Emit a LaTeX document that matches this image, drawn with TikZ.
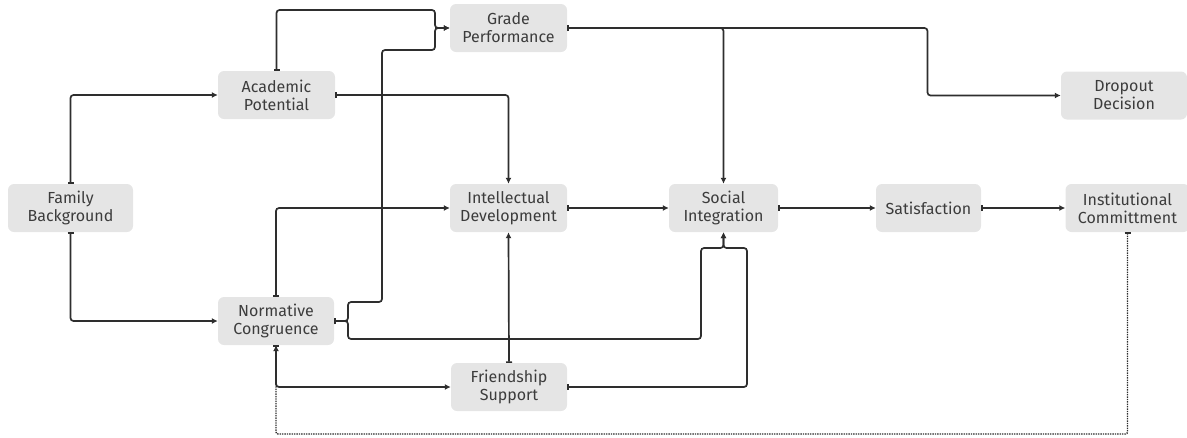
\documentclass[tikz,border=0pt]{standalone}
\usepackage{fontspec}
\setmainfont{Fira Sans}
\usepackage{tikz}
\usetikzlibrary{positioning,arrows.meta,calc}
\definecolor{boxgray}{HTML}{E5E5E5}
\definecolor{ink}{HTML}{2E2E2E}
\definecolor{txt}{HTML}{3C3C3C}

\begin{document}
\begin{tikzpicture}[x=1pt,y=-1pt,
  box/.style={fill=boxgray,rounded corners=6pt,minimum height=48pt,inner xsep=4pt,
    align=center,text=txt,font=\fontsize{16pt}{18pt}\selectfont},
  link/.style={draw=ink,line width=1.7pt,rounded corners=3pt,
    {Bar[width=6pt,line width=1.5pt]}-{Latex[length=6pt,width=6pt]}},
  feedback/.style={draw=ink,line width=1.4pt,densely dotted,rounded corners=2pt,
    {Bar[width=6pt,line width=1.3pt]}-{Latex[length=6pt,width=6pt]}}]
\useasboundingbox (0,0) rectangle (1187,437);
% boxes
\node[box,minimum width=117pt] (grade) at (508.5,28) {Grade\\Performance};
\node[box,minimum width=117pt] (acad) at (276.5,95) {Academic\\Potential};
\node[box,minimum width=125pt] (family) at (70.5,208) {Family\\Background};
\node[box,minimum width=117pt] (intel) at (508.5,208) {Intellectual\\Development};
\node[box,minimum width=116pt] (norm) at (276,321) {Normative\\Congruence};
\node[box,minimum width=116pt] (friend) at (509,387) {Friendship\\Support};
\node[box,minimum width=109pt] (social) at (723.5,208) {Social\\Integration};
\node[box,minimum width=105pt] (satis) at (928.5,208) {Satisfaction};
\node[box,minimum width=124pt] (inst) at (1127.5,208) {Institutional\\Committment};
\node[box,minimum width=126pt] (drop) at (1124,95.5) {Dropout\\Decision};
% bends
\coordinate (gradein) at (435,28);
\coordinate (normsplit) at (348,321);
\coordinate (socialin) at (723.5,248);
\coordinate (graderight) at (927.5,28);
\coordinate (loopbottom) at (276,434);
% family background
\draw[link] (family.north) |- (acad.west);
\draw[link] (family.south) |- (norm.west);
% into grade performance
\draw[link] (acad.north) -- (acad.north |- 0,10) -- (gradein |- 0,10) -- (gradein) -- (grade.west);
\draw[link] (norm.east) -- (normsplit) -- (normsplit |- 0,302) -- (382,302) -- (382,50)
  -- (gradein |- 0,50) -- (gradein) -- (grade.west);
% into social integration
\draw[link] (norm.east) -- (normsplit) -- (normsplit |- 0,339) -- (701,339) -- (701,248)
  -- (socialin) -- (social.south);
\draw[link] (friend.east) -- (747,387) -- (747,248) -- (socialin) -- (social.south);
\draw[link] (grade.east) -| (social.north);
\draw[link] (grade.east) -- (graderight) |- (drop.west);
% into intellectual development
\draw[link] (acad.east) -| (intel.north);
\draw[link] (norm.north) |- (intel.west);
\draw[link] (friend.north) -- (intel.south);
% main row
\draw[link] (intel.east) -- (social.west);
\draw[link] (social.east) -- (satis.west);
\draw[link] (satis.east) -- (inst.west);
% normative congruence and friendship
\draw[link] (norm.south) |- (friend.west);
\draw[feedback] (inst.south) |- (loopbottom) -- (norm.south);
\end{tikzpicture}
\end{document}
